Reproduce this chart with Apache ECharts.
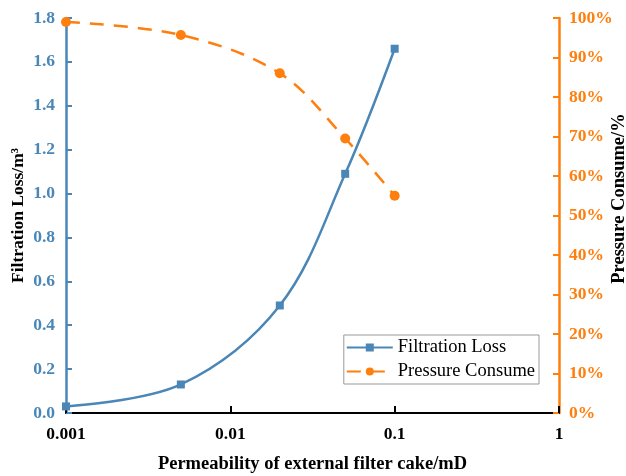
<!DOCTYPE html>
<html><head><meta charset="utf-8">
<script src="https://cdn.jsdelivr.net/npm/echarts@6/dist/echarts.min.js"></script>
<style>html,body{margin:0;padding:0;background:#fff}#c{width:626px;height:476px}</style>
</head><body><div id="c"></div>
<script>
const permeability = [0.001, 0.005, 0.02, 0.05, 0.1];
const filtrationLoss = [0.03, 0.13, 0.49, 1.09, 1.66];
const pressureConsume = [99, 95.7, 86, 69.5, 55];
const leftTicks = [0, 0.2, 0.4, 0.6, 0.8, 1.0, 1.2, 1.4, 1.6, 1.8];

const BLUE = '#4a86b6', ORANGE = '#ff7f0e';
const FONT = '"Liberation Serif","Times New Roman",serif';
const chart = echarts.init(document.getElementById('c'));
chart.setOption({
  animation: false,
  grid: {left: 66, right: 67, top: 18, bottom: 63, containLabel: false, outerBoundsMode: 'none'},
  legend: {
    right: 87, top: 335, orient: 'vertical', itemGap: 5,
    itemWidth: 46, itemHeight: 10,
    borderColor: '#999', borderWidth: 1, padding: [3, 4, 3, 2], borderRadius: 0,
    textStyle: {fontFamily: FONT, fontSize: 18.5, color: '#000'},
    data: ['Filtration Loss', 'Pressure Consume']
  },
  xAxis: {
    type: 'log', logBase: 10, min: 0.001, max: 1,
    name: 'Permeability of external filter cake/mD', nameLocation: 'middle', nameGap: 42,
    nameMoveOverlap: false,
    nameTextStyle: {fontFamily: FONT, fontSize: 18.5, fontWeight: 'bold', color: '#000'},
    axisLine: {lineStyle: {color: '#000', width: 2}},
    axisTick: {inside: true, length: 7, lineStyle: {color: '#000', width: 2}},
    axisLabel: {fontFamily: FONT, fontSize: 17.5, fontWeight: 'bold', color: '#000', margin: 12,
      formatter: v => String(+v.toPrecision(3))},
    splitLine: {show: false}, minorTick: {show: false}
  },
  yAxis: [{
    type: 'value', min: 0, max: 1.8, interval: 0.2, position: 'left',
    name: 'Filtration Loss/m³', nameLocation: 'middle', nameGap: 39, nameRotate: 90,
    nameMoveOverlap: false,
    nameTextStyle: {fontFamily: FONT, fontSize: 17.5, fontWeight: 'bold', color: '#000'},
    axisLine: {show: true, lineStyle: {color: BLUE, width: 2.5}},
    axisTick: {show: true, inside: true, length: 6, lineStyle: {color: BLUE, width: 2}},
    axisLabel: {fontFamily: FONT, fontSize: 17.5, fontWeight: 'bold', color: BLUE, margin: 11,
      formatter: v => v.toFixed(1)},
    splitLine: {show: false}
  }, {
    type: 'value', min: 0, max: 100, interval: 10, position: 'right',
    name: 'Pressure Consume/%', nameLocation: 'middle', nameGap: 51, nameRotate: 90,
    nameMoveOverlap: false,
    nameTextStyle: {fontFamily: FONT, fontSize: 18.5, fontWeight: 'bold', color: '#000',
      padding: [0, 0, 0, 34]},
    axisLine: {show: true, lineStyle: {color: ORANGE, width: 2.5}},
    axisTick: {show: true, inside: true, length: 6, lineStyle: {color: ORANGE, width: 2}},
    axisLabel: {fontFamily: FONT, fontSize: 17.5, fontWeight: 'bold', color: ORANGE, margin: 10,
      formatter: v => v + '%'},
    splitLine: {show: false}
  }],
  series: [{
    name: 'Filtration Loss', type: 'line', yAxisIndex: 0, smooth: 0.35,
    data: permeability.map((x, i) => [x, filtrationLoss[i]]),
    symbol: 'rect', symbolSize: 8,
    itemStyle: {color: BLUE}, lineStyle: {color: BLUE, width: 2.5}
  }, {
    name: 'Pressure Consume', type: 'line', yAxisIndex: 1, smooth: 0.35,
    data: permeability.map((x, i) => [x, pressureConsume[i]]),
    symbol: 'circle', symbolSize: 10,
    itemStyle: {color: ORANGE}, lineStyle: {color: ORANGE, width: 2.5, type: [14, 10]}
  }]
});
</script></body></html>
